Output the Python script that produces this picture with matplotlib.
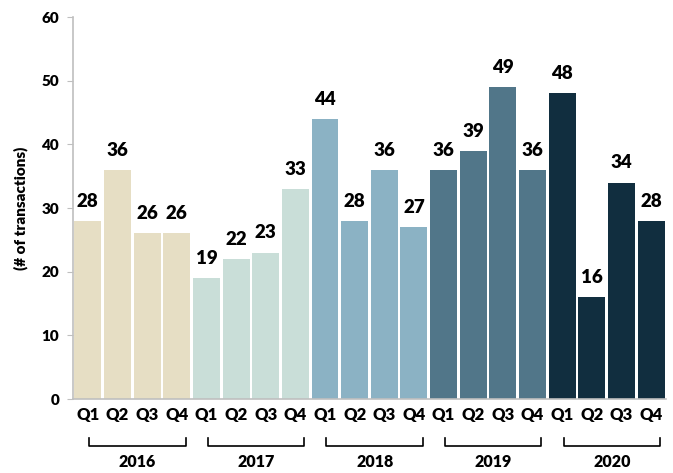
import matplotlib.pyplot as plt
import numpy as np

years = ['2016', '2017', '2018', '2019', '2020']
quarters = ['Q1', 'Q2', 'Q3', 'Q4']
counts = [28, 36, 26, 26,
          19, 22, 23, 33,
          44, 28, 36, 27,
          36, 39, 49, 36,
          48, 16, 34, 28]
year_colors = ['#E6DEC4', '#C9DED8', '#8BB2C4', '#517689', '#112E3F']

plt.rcParams['font.family'] = ['Lato', 'DejaVu Sans']
plt.rcParams['font.weight'] = 'bold'

fig = plt.figure(figsize=(6.73, 4.73), dpi=100)
ax = fig.add_axes([0.1085, 0.1564, 0.881, 0.8076])

x = np.arange(len(counts))
colors = [year_colors[i // 4] for i in range(len(counts))]
bars = ax.bar(x, counts, width=0.91, color=colors)

for xi, v in zip(x, counts):
    ax.annotate(str(v), (xi, v), xytext=(0, 8), textcoords='offset points',
                ha='center', va='bottom', fontsize=13.5, fontweight='heavy')

ax.set_xlim(-0.5, 19.5)
ax.set_ylim(0, 60)
ax.set_yticks(range(0, 61, 10))
ax.set_yticklabels([str(t) for t in range(0, 61, 10)], fontsize=11, fontweight='heavy')
ax.tick_params(axis='y', color='#BFBFBF', length=4, pad=6)

ax.set_xticks(x)
ax.set_xticklabels(quarters * len(years), fontsize=12, fontweight='heavy')
ax.tick_params(axis='x', length=0, pad=6)

for s in ['top', 'right']:
    ax.spines[s].set_visible(False)
ax.spines['left'].set_color('#BFBFBF')
ax.spines['bottom'].set_color('#BFBFBF')
ax.spines['left'].set_linewidth(1.2)
ax.spines['bottom'].set_linewidth(1.2)

ax.set_ylabel('(# of transactions)', fontsize=11, fontweight='heavy', labelpad=10)

# year brackets below quarter labels
trans = ax.get_xaxis_transform()
for i, yr in enumerate(years):
    x0 = 4 * i + 0.05
    x1 = 4 * i + 3.3
    ax.plot([x0, x0, x1, x1], [-0.102, -0.122, -0.122, -0.102], transform=trans,
            color='black', lw=1.2, clip_on=False)
    ax.text((x0 + x1) / 2, -0.165, yr, transform=trans, ha='center', va='center',
            fontsize=11.5, fontweight='heavy')

fig.savefig('out.png', dpi=100)
